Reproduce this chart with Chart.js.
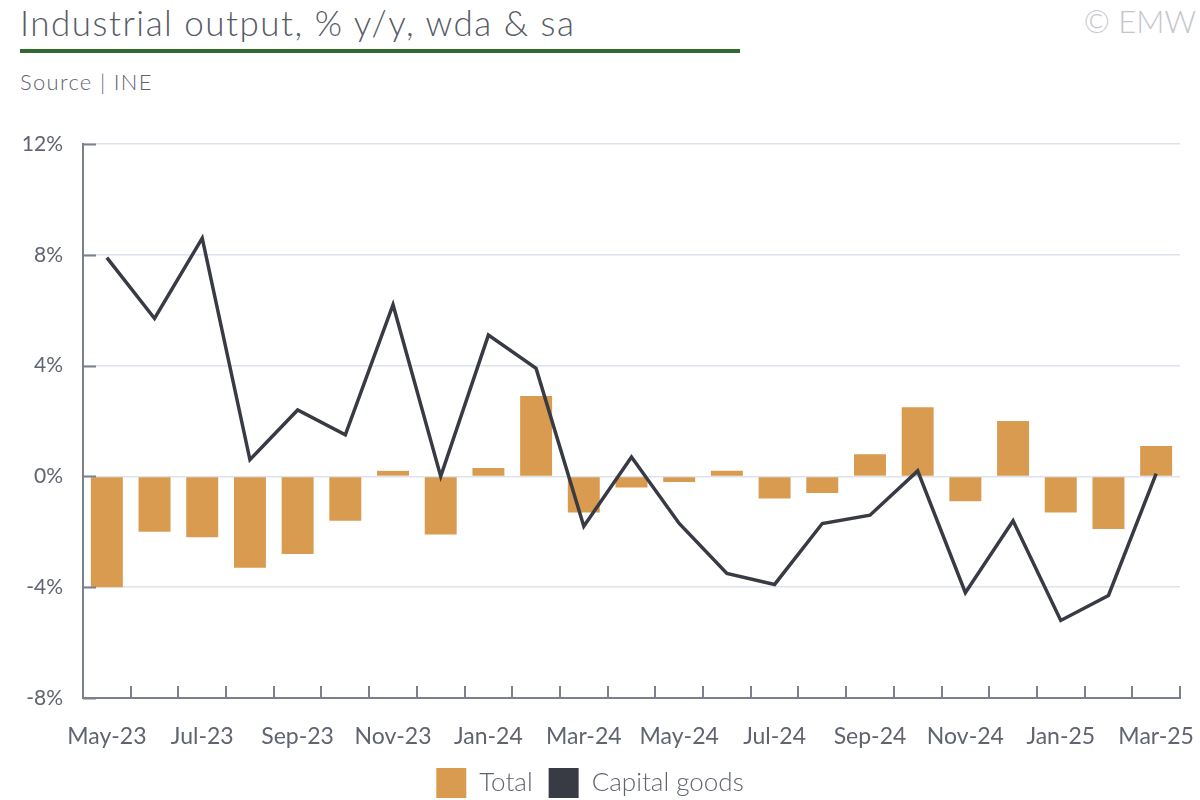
<!DOCTYPE html>
<html>
<head>
<meta charset="utf-8">
<script src="https://cdn.jsdelivr.net/npm/chart.js@4"></script>
<style>
  html, body { margin: 0; padding: 0; background: #fff; }
  body { width: 1200px; height: 800px; position: relative; overflow: hidden; font-family: Lato, "Open Sans", sans-serif; }
  #title { position: absolute; left: 20px; top: 0px; font-size: 35px; font-weight: 300; letter-spacing: 1.5px; color: #565b66; white-space: nowrap; line-height: 44px; }
  #rule { position: absolute; left: 20px; top: 49px; width: 720px; height: 4px; background: #2f6a31; }
  #source { position: absolute; left: 20px; top: 67px; font-size: 22px; font-weight: 300; letter-spacing: 1.3px; color: #5f6470; line-height: 30px; }
  #copy { position: absolute; right: 4px; top: 0px; font-size: 31px; font-weight: 300; color: #c3c6cc; line-height: 42px; }
  #wrap { position: absolute; left: 0; top: 0; width: 1200px; height: 800px; }
</style>
</head>
<body>
<div id="title">Industrial output, % y/y, wda &amp; sa</div>
<div id="rule"></div>
<div id="source">Source | INE</div>
<div id="copy">© EMW</div>
<div id="wrap"><canvas id="c" width="1200" height="800"></canvas></div>
<script>
const categories = ["May-23","Jun-23","Jul-23","Aug-23","Sep-23","Oct-23","Nov-23","Dec-23",
  "Jan-24","Feb-24","Mar-24","Apr-24","May-24","Jun-24","Jul-24","Aug-24","Sep-24","Oct-24",
  "Nov-24","Dec-24","Jan-25","Feb-25","Mar-25"];
const totalValues = [-4.0,-2.0,-2.2,-3.3,-2.8,-1.6,0.2,-2.1,0.3,2.9,-1.3,-0.4,-0.2,0.2,-0.8,-0.6,0.8,2.5,-0.9,2.0,-1.3,-1.9,1.1];
const capitalGoodsValues = [7.9,5.7,8.6,0.6,2.4,1.5,6.2,0.0,5.1,3.9,-1.8,0.7,-1.7,-3.5,-3.9,-1.7,-1.4,0.2,-4.2,-1.6,-5.2,-4.3,0.1];
const yTicks = [-8,-4,0,4,8,12];

const AXIS = '#7b808d';
const TEXT = '#5f6470';
const FONT = 'Lato, "Open Sans", sans-serif';

const tickPlugin = {
  id: 'innerTicks',
  afterDatasetsDraw(chart) {
    const {ctx, chartArea: a, scales: {x, y}} = chart;
    ctx.save();
    ctx.strokeStyle = AXIS;
    ctx.lineWidth = 2;
    ctx.beginPath();
    y.ticks.forEach(t => {
      const py = Math.round(y.getPixelForValue(t.value)) + 0.5;
      ctx.moveTo(a.left, py); ctx.lineTo(a.left + 13, py);
    });
    const n = categories.length;
    for (let i = 1; i <= n; i++) {
      const px = Math.round(a.left + (a.right - a.left) * i / n);
      ctx.moveTo(px, a.bottom); ctx.lineTo(px, a.bottom - 12);
    }
    ctx.stroke();
    ctx.restore();
  }
};

new Chart(document.getElementById('c'), {
  data: {
    labels: categories,
    datasets: [
      {
        type: 'line', label: 'Capital goods', data: capitalGoodsValues,
        borderColor: '#383b43', backgroundColor: '#383b43', borderWidth: 3.5,
        pointRadius: 0, tension: 0, order: 0
      },
      {
        type: 'bar', label: 'Total', data: totalValues,
        backgroundColor: '#d99b4f', borderWidth: 0,
        barPercentage: 0.67, categoryPercentage: 1.0, order: 1
      }
    ]
  },
  options: {
    responsive: false,
    animation: false,
    devicePixelRatio: 1,
    layout: { padding: { left: 0, right: 20, top: 144, bottom: -8 } },
    plugins: {
      legend: {
        position: 'bottom',
        labels: {
          boxWidth: 30, boxHeight: 30, padding: 16,
          color: TEXT, font: { family: FONT, size: 26, weight: '300' },
          generateLabels(chart) {
            return [
              { text: 'Total', fillStyle: '#d99b4f', strokeStyle: '#d99b4f', lineWidth: 0, datasetIndex: 1, fontColor: TEXT },
              { text: 'Capital goods', fillStyle: '#383b43', strokeStyle: '#383b43', lineWidth: 0, datasetIndex: 0, fontColor: TEXT }
            ];
          }
        }
      },
      tooltip: { enabled: false }
    },
    scales: {
      x: {
        type: 'category',
        offset: true,
        grid: { display: false, drawTicks: false },
        border: { display: true, color: AXIS, width: 2 },
        ticks: {
          autoSkip: false, maxRotation: 0, minRotation: 0, padding: 25,
          color: TEXT, font: { family: FONT, size: 23, weight: '400' },
          callback(v, i) { return i % 2 === 0 ? categories[i] : ''; }
        },
        afterFit(s) { s.height = 54; s.paddingRight = 0; s.paddingLeft = 0; }
      },
      y: {
        min: -8, max: 12,
        afterBuildTicks(s) { s.ticks = yTicks.map(v => ({ value: v })); },
        grid: { color: '#dce3ee', lineWidth: 1.5, drawTicks: false },
        border: { display: true, color: AXIS, width: 2 },
        ticks: {
          padding: 20, color: TEXT, font: { family: FONT, size: 21, weight: '400' },
          callback(v) { return v + '%'; }
        },
        afterFit(s) { s.width = 83; }
      }
    }
  },
  plugins: [tickPlugin]
});
</script>
</body>
</html>
